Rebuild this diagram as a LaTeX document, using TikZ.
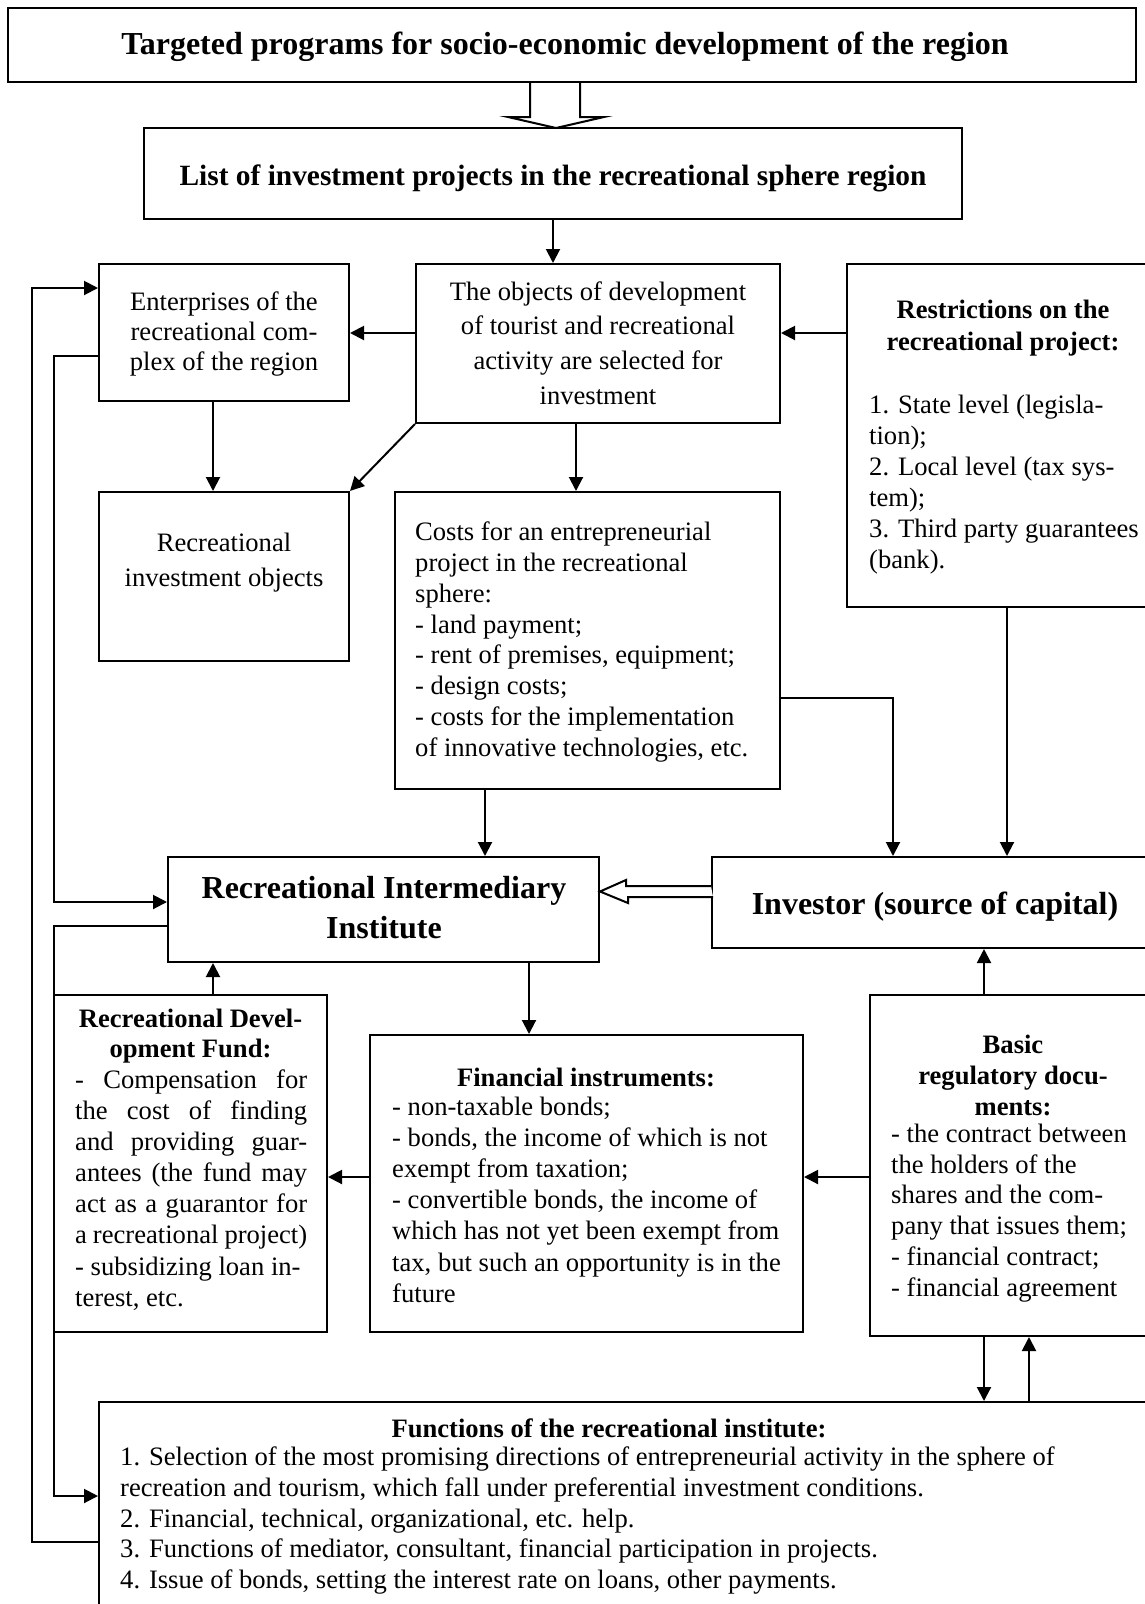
\documentclass[tikz,border=0pt]{standalone}
\usepackage{fontspec}
\setmainfont{Liberation Serif}
\usetikzlibrary{arrows.meta,calc,fit}
\begin{document}
\begin{tikzpicture}[x=1pt,y=-1pt,
  box/.style={draw,line width=2pt,inner sep=0pt},
  arr/.style={line width=2pt,-{Triangle[length=14pt,width=14pt]}},
  hollow/.style={draw,line width=2pt,fill=white,line join=miter},
  reg/.style={inner sep=0pt,font=\fontsize{26.6}{30.8}\selectfont},
  bld/.style={inner sep=0pt,font=\bfseries\fontsize{26.6}{31}\selectfont}]
\clip (0,0) rectangle (1145,1604);
\fill[white] (0,0) rectangle (1145,1604);
% boxes
\node[box,fit={(8,8)(1136,82)}] (top) {};
\node[box,fit={(144,128)(962,219)}] (list) {};
\node[box,fit={(99,264)(349,401)}] (ent) {};
\node[box,fit={(416,264)(780,423)}] (obj) {};
\node[box,fit={(847,264)(1160,607)}] (restr) {};
\node[box,fit={(99,492)(349,661)}] (recinv) {};
\node[box,fit={(395,492)(780,789)}] (costs) {};
\node[box,fit={(168,857)(599,962)}] (inst) {};
\node[box,fit={(712,857)(1160,948)}] (inv) {};
\node[box,fit={(54,995)(327,1332)}] (fund) {};
\node[box,fit={(370,1035)(803,1332)}] (fin) {};
\node[box,fit={(870,995)(1160,1336)}] (basic) {};
\node[box,fit={(99,1402)(1160,1620)}] (func) {};
% texts
\node[inner sep=0pt,font=\bfseries\fontsize{32}{36}\selectfont] (tTop) at (565,47) {Targeted programs for socio-economic development of the region};
\node[inner sep=0pt,font=\bfseries\fontsize{29.4}{31}\selectfont] (tList) at (553,178) {List of investment projects in the recreational sphere region};
\node[reg,align=center,font=\fontsize{26.6}{30}\selectfont] (tEnt) at (224,334) {Enterprises of the\\recreational com-\\plex of the region};
\node[reg,align=center,font=\fontsize{26.6}{34.7}\selectfont] (tObj) at (598,343) {The objects of development\\of tourist and recreational\\activity are selected for\\investment};
\node[bld,align=center,font=\bfseries\fontsize{26.6}{32}\selectfont] (tRh) at (1003,328) {Restrictions on the\\recreational project:};
\node[reg,align=left,anchor=west,font=\fontsize{26.6}{31}\selectfont] (tRl) at (869,484.5) {1. State level (legisla-\\tion);\\2. Local level (tax sys-\\tem);\\3. Third party guarantees\\(bank).};
\node[reg,align=center,font=\fontsize{26.6}{35}\selectfont] (tRec) at (224,562.5) {Recreational\\investment objects};
\node[reg,align=left,anchor=west,font=\fontsize{26.6}{30.9}\selectfont] (tCost) at (415,642) {Costs for an entrepreneurial\\project in the recreational\\sphere:\\- land payment;\\- rent of premises, equipment;\\- design costs;\\- costs for the implementation\\of innovative technologies, etc.};
\node[inner sep=0pt,align=center,font=\bfseries\fontsize{32}{40}\selectfont] (tInst) at (384,908) {Recreational Intermediary\\Institute};
\node[inner sep=0pt,font=\bfseries\fontsize{32}{35}\selectfont] (tInv) at (935,907) {Investor (source of capital)};
\node[bld,align=center,font=\bfseries\fontsize{26.6}{30}\selectfont] (tFh) at (190.5,1036) {Recreational Devel-\\opment Fund:};
\node[reg,align=left,anchor=west,font=\fontsize{26.6}{31.1}\selectfont] (tFl) at (75,1190) {\makebox[232pt][s]{- Compensation for}\\\makebox[232pt][s]{the cost of finding}\\\makebox[232pt][s]{and providing guar-}\\\makebox[232pt][s]{antees (the fund may}\\\makebox[232pt][s]{act as a guarantor for}\\\makebox[232pt][s]{a recreational project)}\\- subsidizing loan in-\\terest, etc.};
\node[bld] (tFinh) at (586,1077) {Financial instruments:};
\node[reg,align=left,anchor=west,font=\fontsize{26.6}{31.2}\selectfont] (tFinl) at (392,1199.5) {- non-taxable bonds;\\- bonds, the income of which is not\\exempt from taxation;\\- convertible bonds, the income of\\which has not yet been exempt from\\tax, but such an opportunity is in the\\future};
\node[bld,align=center,font=\bfseries\fontsize{26.6}{31}\selectfont] (tBh) at (1013,1075) {Basic\\regulatory docu-\\ments:};
\node[reg,align=left,anchor=west] (tBl) at (891,1213) {- the contract between\\the holders of the\\shares and the com-\\pany that issues them;\\- financial contract;\\- financial agreement};
\node[bld] (tFuh) at (609,1428) {Functions of the recreational institute:};
\node[reg,align=left,anchor=west] (tFul) at (120,1520.5) {1. Selection of the most promising directions of entrepreneurial activity in the sphere of\\recreation and tourism, which fall under preferential investment conditions.\\2. Financial, technical, organizational, etc. help.\\3. Functions of mediator, consultant, financial participation in projects.\\4. Issue of bonds, setting the interest rate on loans, other payments.};
% hollow arrows
\draw[hollow] ($(top.south)+(-42,0)$) -- ++(0,34) -- ++(-22,0) -- ++(48,11) -- ++(48,-11) -- ++(-24,0) -- ++(0,-34);
\coordinate (hb) at (0,891.5);
\draw[hollow] ($(inv.west |- hb)+(0,-5.5)$) -- ++(-85,0) -- ++(0,-6) -- (inst.east |- hb) -- ++(28,11.5) -- ++(0,-6) -- ++(85,0);
% helper coordinates
\coordinate (y333) at (0,333);
\coordinate (x213) at (213,0);
\coordinate (x576) at (576,0);
\coordinate (x485) at (485,0);
\coordinate (c1) at (893,698);
\coordinate (x1007) at (1007,0);
\coordinate (x529) at (529,0);
\coordinate (y1177) at (0,1177);
\coordinate (x984) at (984,0);
\coordinate (x1029) at (1029,0);
\coordinate (L1) at (32,1542);
\coordinate (L1t) at (32,288);
\coordinate (L2) at (54,356);
\coordinate (L2b) at (54,902);
\coordinate (L3) at (54,926);
\coordinate (L3b) at (54,1496);
% connectors
\draw[arr] (list.south) -- (list.south |- obj.north);
\draw[arr] (obj.west |- y333) -- (ent.east |- y333);
\draw[arr] (restr.west |- y333) -- (obj.east |- y333);
\draw[arr] (ent.south -| x213) -- (recinv.north -| x213);
\draw[arr] (obj.south west) -- (recinv.north east);
\draw[arr] (obj.south -| x576) -- (costs.north -| x576);
\draw[arr] (costs.south -| x485) -- (inst.north -| x485);
\draw[arr] (costs.east |- c1) -- (c1) -- (inv.north -| c1);
\draw[arr] (restr.south -| x1007) -- (inv.north -| x1007);
\draw[arr] (fund.north -| x213) -- (inst.south -| x213);
\draw[arr] (inst.south -| x529) -- (fin.north -| x529);
\draw[arr] (fin.west |- y1177) -- (fund.east |- y1177);
\draw[arr] (basic.west |- y1177) -- (fin.east |- y1177);
\draw[arr] (basic.north -| x984) -- (inv.south -| x984);
\draw[arr] (basic.south -| x984) -- (func.north -| x984);
\draw[arr] (func.north -| x1029) -- (basic.south -| x1029);
\draw[arr] (func.west |- L1) -- (L1) -- (L1t) -- (ent.west |- L1t);
\draw[arr] (ent.west |- L2) -- (L2) -- (L2b) -- (inst.west |- L2b);
\draw[arr] (inst.west |- L3) -- (L3) -- (L3b) -- (func.west |- L3b);
\end{tikzpicture}
\end{document}
